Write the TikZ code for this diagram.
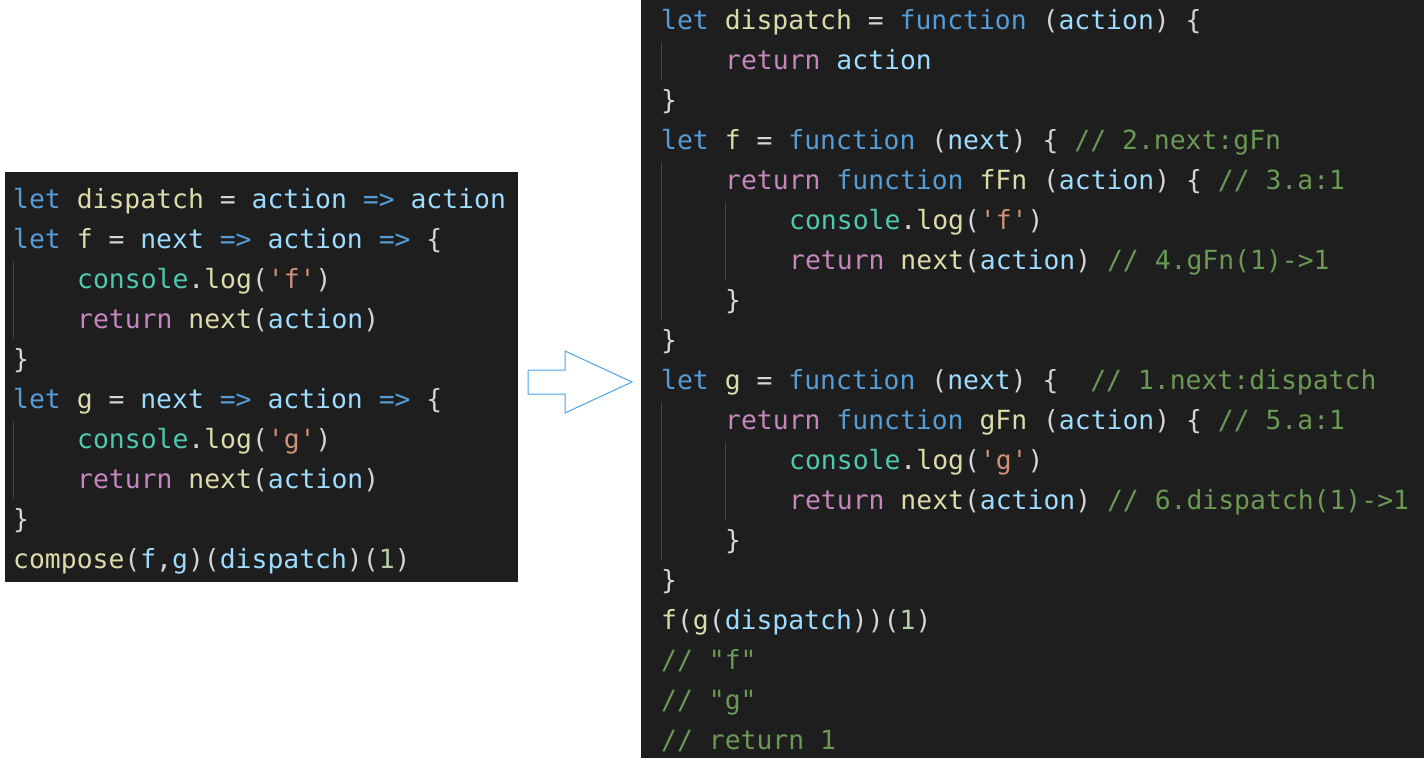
\documentclass[tikz,border=0pt]{standalone}
\usepackage{fontspec}
\setmonofont{DejaVu Sans Mono}
\definecolor{bg}{HTML}{1E1E1E}
\definecolor{kw}{HTML}{569CD6}
\definecolor{vr}{HTML}{9CDCFE}
\definecolor{fn}{HTML}{DCDCAA}
\definecolor{rt}{HTML}{C586C0}
\definecolor{st}{HTML}{CE9178}
\definecolor{cm}{HTML}{6A9955}
\definecolor{nm}{HTML}{B5CEA8}
\definecolor{pn}{HTML}{D4D4D4}
\definecolor{cl}{HTML}{4EC9B0}
\definecolor{gd}{HTML}{444444}
\definecolor{ar}{HTML}{4AA3EA}
\newcommand\K[1]{\textcolor{kw}{#1}}
\newcommand\V[1]{\textcolor{vr}{#1}}
\newcommand\F[1]{\textcolor{fn}{#1}}
\newcommand\R[1]{\textcolor{rt}{#1}}
\newcommand\Sq[1]{\textcolor{st}{#1}}
\newcommand\Cm[1]{\textcolor{cm}{#1}}
\newcommand\N[1]{\textcolor{nm}{#1}}
\newcommand\C[1]{\textcolor{cl}{#1}}
\begin{document}
\begin{tikzpicture}[x=1pt,y=-1pt,
  code/.style={anchor=base west,inner sep=0pt,text=pn,font=\ttfamily\fontsize{26.4}{40}\selectfont},
  guide/.style={draw=gd,line width=1pt}]
\useasboundingbox (0,0) rectangle (1424,758);
\fill[white] (0,0) rectangle (1424,758);
\fill[bg] (5,172) rectangle (518,582);
\fill[bg] (641,0) rectangle (1424,758);
% left code
\def\lx{13}\def\ix{77}
\node[code] (l1) at (\lx,208) {\K{let} \F{dispatch} = \V{action} \K{=>} \V{action}};
\node[code] (l2) at (\lx,248) {\K{let} \F{f} = \V{next} \K{=>} \V{action} \K{=>} \{};
\node[code] (l3) at (\ix,288) {\C{console}.\F{log}(\Sq{'f'})};
\node[code] (l4) at (\ix,328) {\R{return} \F{next}(\V{action})};
\node[code] (l5) at (\lx,368) {\}};
\node[code] (l6) at (\lx,408) {\K{let} \F{g} = \V{next} \K{=>} \V{action} \K{=>} \{};
\node[code] (l7) at (\ix,448) {\C{console}.\F{log}(\Sq{'g'})};
\node[code] (l8) at (\ix,488) {\R{return} \F{next}(\V{action})};
\node[code] (l9) at (\lx,528) {\}};
\node[code] (l10) at (\lx,568) {\F{compose}(\V{f},\V{g})(\V{dispatch})(\N{1})};
\draw[guide] (13,261) -- (13,339);
\draw[guide] (13,421) -- (13,499);
% right code
\def\ra{661}\def\rb{725}\def\rc{789}
\node[code] (r1) at (\ra,29) {\K{let} \F{dispatch} = \K{function} (\V{action}) \{};
\node[code] (r2) at (\rb,69) {\R{return} \V{action}};
\node[code] (r3) at (\ra,109) {\}};
\node[code] (r4) at (\ra,149) {\K{let} \F{f} = \K{function} (\V{next}) \{ \Cm{// 2.next:gFn}};
\node[code] (r5) at (\rb,189) {\R{return} \K{function} \F{fFn} (\V{action}) \{ \Cm{// 3.a:1}};
\node[code] (r6) at (\rc,229) {\C{console}.\F{log}(\Sq{'f'})};
\node[code] (r7) at (\rc,269) {\R{return} \F{next}(\V{action}) \Cm{// 4.gFn(1)->1}};
\node[code] (r8) at (\rb,309) {\}};
\node[code] (r9) at (\ra,349) {\}};
\node[code] (r10) at (\ra,389) {\K{let} \F{g} = \K{function} (\V{next}) \{\ \ \Cm{// 1.next:dispatch}};
\node[code] (r11) at (\rb,429) {\R{return} \K{function} \F{gFn} (\V{action}) \{ \Cm{// 5.a:1}};
\node[code] (r12) at (\rc,469) {\C{console}.\F{log}(\Sq{'g'})};
\node[code] (r13) at (\rc,509) {\R{return} \F{next}(\V{action}) \Cm{// 6.dispatch(1)->1}};
\node[code] (r14) at (\rb,549) {\}};
\node[code] (r15) at (\ra,589) {\}};
\node[code] (r16) at (\ra,629) {\F{f}(\F{g}(\V{dispatch}))(\N{1})};
\node[code] (r17) at (\ra,669) {\Cm{// "f"}};
\node[code] (r18) at (\ra,709) {\Cm{// "g"}};
\node[code] (r19) at (\ra,749) {\Cm{// return 1}};
\draw[guide] (661,42) -- (661,80);
\draw[guide] (661,162) -- (661,320);
\draw[guide] (725,202) -- (725,280);
\draw[guide] (661,402) -- (661,560);
\draw[guide] (725,442) -- (725,520);
% arrow
\draw[ar,line width=1pt,line join=miter] (528,370) -- (565,370) -- (565,351) -- (632,382) -- (565,413) -- (565,394) -- (528,394) -- cycle;
\end{tikzpicture}
\end{document}
